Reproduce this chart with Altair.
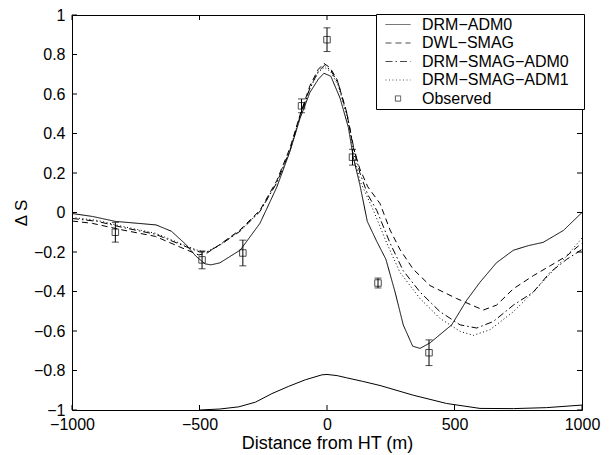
import altair as alt
import pandas as pd

# ---------------- data ----------------
series_names = ["DRM−ADM0", "DWL−SMAG", "DRM−SMAG−ADM0", "DRM−SMAG−ADM1", "Observed"]

x_adm0 = [-1000, -920, -830, -740, -670, -610, -555, -515, -478, -455, -420, -340, -263, -197,
          -145, -106, -67, -34, -12, 15, 51, 84, 103, 129, 158, 195, 231, 267, 299, 336, 365,
          404, 489, 548, 600, 665, 731, 789, 848, 927, 1000]
y_adm0 = [-0.005, -0.02, -0.045, -0.055, -0.063, -0.095, -0.16, -0.22, -0.26, -0.265, -0.255,
          -0.19, -0.055, 0.128, 0.31, 0.476, 0.608, 0.675, 0.705, 0.69, 0.58, 0.43, 0.28, 0.14,
          -0.045, -0.146, -0.237, -0.403, -0.569, -0.677, -0.688, -0.66, -0.569, -0.444, -0.353,
          -0.254, -0.191, -0.168, -0.151, -0.091, 0.0]

x_dwl = [-1000, -920, -804, -673, -569, -503, -470, -420, -341, -263, -197, -145, -106, -67,
         -34, -12, 12, 39, 77, 103, 129, 160, 208, 247, 286, 338, 404, 509, 613, 665, 731, 809,
         875, 940, 1000]
y_dwl = [-0.043, -0.055, -0.088, -0.121, -0.179, -0.215, -0.205, -0.162, -0.088, 0.011, 0.161,
         0.327, 0.493, 0.642, 0.725, 0.755, 0.733, 0.675, 0.509, 0.33, 0.22, 0.13, 0.045, -0.088,
         -0.187, -0.287, -0.37, -0.436, -0.494, -0.469, -0.386, -0.32, -0.27, -0.22, -0.154]

x_sa0 = [-1000, -900, -804, -673, -569, -500, -470, -420, -341, -263, -197, -145, -106, -67,
         -34, -10, 15, 45, 80, 103, 129, 160, 195, 247, 299, 365, 443, 522, 587, 652, 731, 809,
         875, 940, 1000]
y_sa0 = [-0.03, -0.045, -0.075, -0.11, -0.165, -0.2, -0.2, -0.165, -0.095, 0.005, 0.15, 0.315,
         0.485, 0.63, 0.715, 0.745, 0.72, 0.65, 0.49, 0.34, 0.2, 0.09, 0.011, -0.154, -0.295,
         -0.403, -0.502, -0.569, -0.585, -0.552, -0.469, -0.403, -0.303, -0.237, -0.187]

x_sa1 = [-1000, -900, -804, -673, -569, -500, -470, -420, -341, -263, -197, -145, -106, -67,
         -34, -10, 15, 45, 80, 103, 129, 182, 234, 286, 365, 443, 522, 574, 639, 731, 809, 875,
         940, 1000]
y_sa1 = [-0.025, -0.04, -0.07, -0.105, -0.16, -0.195, -0.198, -0.163, -0.093, 0.007, 0.152,
         0.318, 0.488, 0.628, 0.71, 0.735, 0.712, 0.64, 0.48, 0.31, 0.16, 0.011, -0.154, -0.303,
         -0.436, -0.536, -0.602, -0.622, -0.594, -0.502, -0.403, -0.31, -0.22, -0.129]

x_base = [-500, -420, -346, -280, -216, -150, -85, -20, 0, 40, 77, 140, 208, 338, 469, 600, 731,
          861, 1000]
y_base = [-1.0, -0.995, -0.984, -0.96, -0.917, -0.88, -0.847, -0.822, -0.82, -0.826, -0.837,
          -0.855, -0.876, -0.925, -0.967, -0.992, -0.993, -0.988, -0.975]

obs_x = [-830, -490, -330, -100, 0, 100, 200, 400]
obs_y = [-0.10, -0.24, -0.205, 0.54, 0.875, 0.28, -0.357, -0.71]
obs_err = [0.05, 0.045, 0.065, 0.035, 0.06, 0.04, 0.025, 0.065]

x_ticks = [-1000, -500, 0, 500, 1000]
y_ticks = [-1, -0.8, -0.6, -0.4, -0.2, 0, 0.2, 0.4, 0.6, 0.8, 1]

# ---------------- tables ----------------
rows = []
for name, xs, ys in [(series_names[0], x_adm0, y_adm0), (series_names[1], x_dwl, y_dwl),
                     (series_names[2], x_sa0, y_sa0), (series_names[3], x_sa1, y_sa1)]:
    for i, (a, b) in enumerate(zip(xs, ys)):
        rows.append({"series": name, "x": a, "y": b, "order": i})
lines_df = pd.DataFrame(rows)
base_df = pd.DataFrame({"x": x_base, "y": y_base})
obs_df = pd.DataFrame({"x": obs_x, "y": obs_y, "series": "Observed"})
obs_df["lo"] = [v - e for v, e in zip(obs_y, obs_err)]
obs_df["hi"] = [v + e for v, e in zip(obs_y, obs_err)]
caps_df = pd.DataFrame({"x": obs_x + obs_x, "c": list(obs_df["lo"]) + list(obs_df["hi"])})
xt_df = pd.DataFrame({"x": x_ticks})
yt_df = pd.DataFrame({"y": y_ticks})

TOP = 7
W, H = 510, 402 - TOP
FONT = "Liberation Sans"

xscale = alt.Scale(domain=[-1000, 1000], nice=False, zero=False)
yscale = alt.Scale(domain=[-1, 1], nice=False, zero=False)
dash_scale = alt.Scale(domain=series_names,
                       range=[[1, 0], [6, 4], [7, 3, 1.5, 3], [1, 2.5], [1, 0]])
stroke_path = "M-1.667,0H1.667"
square_path = "M-0.35,-0.35H0.35V0.35H-0.35Z"
shape_scale = alt.Scale(domain=series_names, range=[stroke_path] * 4 + [square_path])

leg = alt.Legend(title=None, labelExpr="datum.label + '\u2800'", labelLimit=400)

x_axis = alt.Axis(values=x_ticks, format="d", title="Distance from HT (m)", ticks=False,
                  domain=False, grid=False, labelPadding=6, titlePadding=2, titleFontSize=18,
                  labelFlush=False, labelOverlap=False, labelFontSize=16, labelColor="black",
                  labelFont=FONT, titleFont=FONT, titleColor="black", titleFontWeight="normal")
y_axis = alt.Axis(values=y_ticks, format=".1~f", title="Δ S", ticks=False, domain=False,
                  grid=False, labelPadding=7, titlePadding=3, titleFontSize=17,
                  labelFlush=False, labelOverlap=False, labelFontSize=16, labelColor="black",
                  labelFont=FONT, titleFont=FONT, titleColor="black", titleFontWeight="normal")


def X(field):
    return alt.X(field, scale=xscale, axis=x_axis)


def Y(field):
    return alt.Y(field, scale=yscale, axis=y_axis)


lines = alt.Chart(lines_df).mark_line(color="black", strokeWidth=1, clip=True).encode(
    x=X("x:Q"), y=Y("y:Q"),
    strokeDash=alt.StrokeDash("series:N", scale=dash_scale, legend=leg),
    order="order:Q",
)

base = alt.Chart(base_df).mark_line(color="black", strokeWidth=1, clip=True).encode(
    x=X("x:Q"), y=Y("y:Q"),
)

err_rule = alt.Chart(obs_df).mark_rule(color="black", strokeWidth=1).encode(
    x=X("x:Q"), y=Y("lo:Q"), y2="hi:Q",
)
caps = alt.Chart(caps_df).mark_tick(color="black", orient="horizontal", size=7,
                                    thickness=1).encode(
    x=X("x:Q"), y=Y("c:Q"),
)

points = alt.Chart(obs_df).mark_point(color="black", filled=False, size=345,
                                      strokeWidth=1).encode(
    x=X("x:Q"), y=Y("y:Q"),
    shape=alt.Shape("series:N", scale=shape_scale, legend=leg),
)

TL = 5
bt = alt.Chart(xt_df).mark_rule(color="black").encode(
    x=X("x:Q"), y=alt.value(H), y2=alt.value(H - TL))
tt = alt.Chart(xt_df).mark_rule(color="black").encode(
    x=X("x:Q"), y=alt.value(0), y2=alt.value(TL))
lt = alt.Chart(yt_df).mark_rule(color="black").encode(
    y=Y("y:Q"), x=alt.value(0), x2=alt.value(TL))
rt = alt.Chart(yt_df).mark_rule(color="black").encode(
    y=Y("y:Q"), x=alt.value(W), x2=alt.value(W - TL))

chart = alt.layer(lines, base, err_rule, caps, points, bt, tt, lt, rt).properties(
    width=W, height=H,
    padding={"left": 64, "top": TOP, "right": 20, "bottom": 45},
    autosize=alt.AutoSizeParams(type="none"),
).configure_view(
    stroke="black", strokeWidth=1
).configure_legend(
    orient="none", legendX=304, legendY=14 - 8 - TOP, strokeColor="black", fillColor="white",
    padding=2.5, labelFont=FONT, labelFontSize=16, labelColor="black",
    symbolSize=225, symbolStrokeWidth=1, symbolStrokeColor="black",
    symbolFillColor="transparent", symbolOffset=11.5, labelOffset=16, rowPadding=2.5,
)

chart.save("out.html", embed_options={"renderer": "svg", "actions": False})
